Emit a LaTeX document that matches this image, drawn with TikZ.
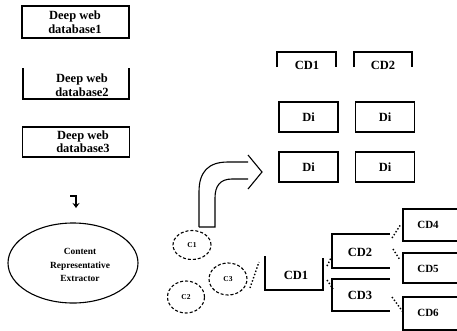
\documentclass[tikz,border=0pt]{standalone}
\usepackage{fontspec}
\setmainfont{Liberation Serif}
\usetikzlibrary{arrows.meta,shapes.geometric}

\begin{document}
\begin{tikzpicture}[x=1pt, y=-1pt, >=Stealth, line width=1.1pt,
  txt/.style={font=\bfseries\fontsize{12.5}{13.5}\selectfont, align=center, inner sep=0pt},
  small/.style={font=\bfseries\fontsize{9.4}{13.5}\selectfont, align=center, inner sep=0pt},
  dbbox/.style={draw, minimum width=107pt, minimum height=30pt, inner sep=0pt},
  dibox/.style={draw, minimum width=59pt, minimum height=30pt, txt},
  clus/.style={draw, ellipse, densely dashed, inner sep=0pt, font=\bfseries\fontsize{7.5}{8}\selectfont},
  link/.style={dotted, line width=1.4pt}]
  \useasboundingbox (0,0) rectangle (457,330);

  % deep web databases
  \node[dbbox, minimum height=32pt] (db1) at (75.5,22) {};
  \node[txt] (db1t) at (75,22) {Deep web\\database1};
  \draw (23,68) |- (129,99) -- (129,68);
  \node[txt] (db2t) at (82,85) {Deep web\\database2};
  \node[dbbox] (db3) at (76,142) {};
  \node[txt] (db3t) at (83,141.5) {Deep web\\database3};

  % extractor
  \coordinate (hk) at (70,196);
  \draw[-{Stealth[length=5pt,width=7pt]}, line width=1.5pt] (hk) -| (76,208);
  \node[draw, ellipse, minimum width=130pt, minimum height=80pt] (cre) at (73,263) {};
  \node[small] (cret) at (80,265) {Content\\Representative\\Extractor};

  % big bent arrow
  \draw (199,227) -- (199,192) .. controls (199,172) and (208,162) .. (228,162) -- (248,162);
  \draw (248,155) -- (262,172) -- (248,189);
  \draw (248,179) -- (232,179) .. controls (220,179) and (215,186) .. (215,198) -- (215,227) -- (199,227);

  % clusters
  \node[clus, minimum width=38pt, minimum height=29pt] (c1) at (192,245) {C1};
  \node[clus, minimum width=37pt, minimum height=32pt] (c2) at (186,297) {C2};
  \node[clus, minimum width=38pt, minimum height=32pt] (c3) at (228,279) {C3};

  % top category directories
  \draw (277,67) |- (336,52) -- (336,67);
  \node[txt] (cd1a) at (307,65) {CD1};
  \draw (354,67) |- (412,52) -- (412,67);
  \node[txt] (cd2a) at (383,65) {CD2};
  \node[dibox] (d11) at (308.5,117) {Di};
  \node[dibox] (d12) at (385,117) {Di};
  \node[dibox] (d21) at (308.5,167) {Di};
  \node[dibox] (d22) at (385,167) {Di};

  % hierarchy of directories
  \draw (265,256) |- (323,290) -- (323,258);
  \node[txt] (cd1) at (296,275) {CD1};
  \draw (390,234) -| (332,268) -- (390,268);
  \node[txt] (cd2) at (360,252) {CD2};
  \draw (390,279) -| (332,311) -- (390,311);
  \node[txt] (cd3) at (360,295) {CD3};
  \draw (457,209) -| (403,241) -- (457,241);
  \node[txt, font=\bfseries\fontsize{11}{12}\selectfont] (cd4) at (428,225) {CD4};
  \draw (457,253) -| (403,283) -- (457,283);
  \node[txt, font=\bfseries\fontsize{11}{12}\selectfont] (cd5) at (428,269) {CD5};
  \draw (457,297) -| (403,330) -- (457,330);
  \node[txt, font=\bfseries\fontsize{11}{12}\selectfont] (cd6) at (428,313) {CD6};

  % dotted links
  \coordinate (a0) at (250,288); \coordinate (a1) at (259,262);
  \coordinate (b0) at (327,266); \coordinate (b1) at (333,254);
  \coordinate (e0) at (327,280); \coordinate (e1) at (333,289);
  \coordinate (f0) at (392,238); \coordinate (f1) at (401,224);
  \coordinate (g0) at (393,249); \coordinate (g1) at (400,260);
  \coordinate (h0) at (392,297); \coordinate (h1) at (403,312);
  \draw[link] (a0) -- (a1);
  \draw[link] (b0) -- (b1);
  \draw[link] (e0) -- (e1);
  \draw[link] (f0) -- (f1);
  \draw[link] (g0) -- (g1);
  \draw[link] (h0) -- (h1);
\end{tikzpicture}
\end{document}
